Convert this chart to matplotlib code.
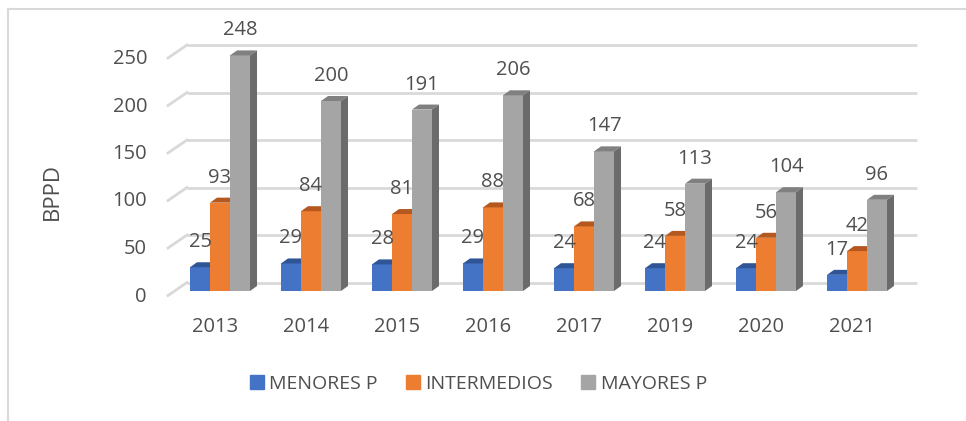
import matplotlib.pyplot as plt
from matplotlib.patches import Polygon
import numpy as np

years = ['2013', '2014', '2015', '2016', '2017', '2019', '2020', '2021']
menores = [25, 29, 28, 29, 24, 24, 24, 17]
intermedios = [93, 84, 81, 88, 68, 58, 56, 42]
mayores = [248, 200, 191, 206, 147, 113, 104, 96]
series_names = ['MENORES P', 'INTERMEDIOS', 'MAYORES P']
yticks = [0, 50, 100, 150, 200, 250]

plt.rcParams['font.family'] = ['Open Sans', 'DejaVu Sans']
txt = '#4F4F4F'
grid_c = '#D9D9D9'

W, H = 966, 421
fig = plt.figure(figsize=(W / 100, H / 100), dpi=100)
ax = fig.add_axes([0, 0, 1, 1])

# pixel layout -> data mapping (pseudo 3d Excel look)
xpx = 91.0      # px per category
x0px = 220.0    # px of first group centre
ky = 0.95       # px per value unit
base = 291.0    # px row of value 0 on front plane
ax.set_xlim(-x0px / xpx, (W - x0px) / xpx)
ax.set_ylim((base - H) / ky, base / ky)
ax.axis('off')

def px_x(p):
    return (p - x0px) / xpx

def px_h(p):
    return p / ky

# back wall gridlines + floor-side slants
back = px_h(8.5)
slant_dy = px_h(13)
for v in yticks:
    yb = v + back
    ax.plot([px_x(187), px_x(917)], [yb, yb], color=grid_c, lw=2, zorder=1,
            solid_capstyle='butt')
    ax.plot([px_x(168), px_x(187)], [yb - slant_dy, yb], color=grid_c, lw=2,
            zorder=1)
    ax.text(px_x(147), yb - slant_dy - px_h(1), str(v), ha='right', va='center',
            fontsize=14.5, color=txt)

# bars
x = np.arange(len(years))
bw = 20 / xpx
ddx = 7 / xpx
ddy = px_h(5)
data = [menores, intermedios, mayores]
fronts = ['#4472C4', '#ED7D31', '#A5A5A5']
tops = ['#2F5597', '#B4581F', '#808080']
sides = ['#2F528F', '#A04E1C', '#6B6B6B']
offs = [-bw, 0, bw]

z = 2
for vals, fc, tc, sc, off in zip(data, fronts, tops, sides, offs):
    for i, v in enumerate(vals):
        xl = x[i] + off - bw / 2
        xr = xl + bw
        ax.bar(x[i] + off, v, width=bw, color=fc, zorder=z)
        ax.add_patch(Polygon([(xl, v), (xr, v), (xr + ddx, v + ddy), (xl + ddx, v + ddy)],
                             closed=True, color=tc, zorder=z, lw=0))
        ax.add_patch(Polygon([(xr, 0), (xr + ddx, ddy), (xr + ddx, v + ddy), (xr, v)],
                             closed=True, color=sc, zorder=z, lw=0))
        ax.text(x[i] + off, v + px_h(25), str(v), ha='center', va='center',
                fontsize=14.5, color=txt, zorder=10)
    z += 1

for i, yr in enumerate(years):
    ax.text(x[i] - 5 / xpx, px_h(base - 327), yr, ha='center', va='center',
            fontsize=14.5, color=txt)

ax.text(px_x(52), px_h(base - 192), 'BPPD', rotation=90, ha='center', va='center',
        fontsize=16, color=txt)

# legend
handles = [plt.Rectangle((0, 0), 1, 1, color=c) for c in fronts]
leg = fig.legend(handles, series_names, loc='center', ncol=3,
                 bbox_to_anchor=(478.5 / W, 1 - 384 / H), frameon=False,
                 fontsize=14, handlelength=0.7, handleheight=0.7,
                 handletextpad=0.3, columnspacing=1.45)
for t in leg.get_texts():
    t.set_color(txt)

# outer frame (top and left edges visible)
fig.add_artist(plt.Line2D([8 / W, 1], [1 - 8.5 / H, 1 - 8.5 / H], color=grid_c, lw=1.5))
fig.add_artist(plt.Line2D([8 / W, 8 / W], [0, 1 - 8.5 / H], color=grid_c, lw=1.5))

fig.savefig('out.png', dpi=100)
